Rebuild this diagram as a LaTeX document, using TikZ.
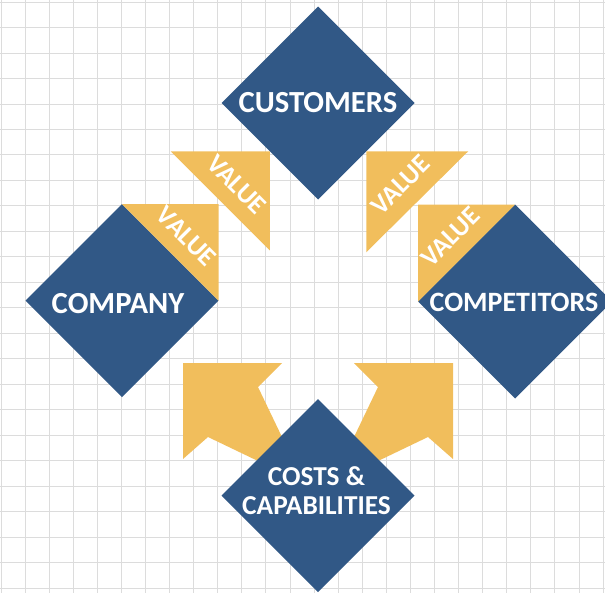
\documentclass[tikz,border=0pt]{standalone}
\usepackage{fontspec}
\setmainfont{Carlito}
\usetikzlibrary{shapes.geometric,calc}
\definecolor{navy}{HTML}{315886}
\definecolor{gold}{HTML}{F1BE5C}
\definecolor{gridgray}{HTML}{DCDCDC}
\begin{document}
\begin{tikzpicture}[x=0.75pt,y=-0.75pt,
  box/.style={diamond,aspect=1,fill=navy,draw=none,inner sep=0pt,outer sep=0pt,
    minimum width=144.75pt,minimum height=144.75pt},
  boxtext/.style={text=white,font=\bfseries\fontsize{23}{27}\selectfont,inner sep=0pt},
  valtext/.style={text=white,font=\bfseries\fontsize{20}{24}\selectfont,inner sep=0pt},
  wedge/.style={fill=gold,draw=none},
  gridline/.style={draw=gridgray,line width=0.6pt}]
\useasboundingbox (0,0) rectangle (605,593);

% background grid
\foreach \k in {0,...,25} \draw[gridline] ({1+24.08*\k},0) -- ({1+24.08*\k},593);
\foreach \k in {0,...,23} \draw[gridline] (0,{2+25.48*\k}) -- (605,{2+25.48*\k});

% two broad arrows rising from the bottom block
\fill[wedge] (183,363) -- (282,363) -- (258,387) -- (294,462) -- (283,473)
  -- (208,437) -- (183,459) -- cycle;
\fill[wedge] (453,363) -- (354,363) -- (378,387) -- (342,462) -- (353,473)
  -- (428,437) -- (453,459) -- cycle;

% the four blocks
\node[box] (cust) at (318,103) {};
\node[box] (comp) at (122,300.5) {};
\node[box,minimum width=145.5pt,minimum height=145.5pt] (rival) at (515,301.5) {};
\node[box] (cost) at (318,495.5) {};

% value triangles
\coordinate (ul) at ($(cust.west)!0.5!(cust.south)$);
\coordinate (ul1) at ($(ul)+(-99,0)$);
\coordinate (ul2) at ($(ul)+(0,99)$);
\fill[wedge] (ul) -- (ul1) -- (ul2) -- cycle;

\coordinate (ur) at ($(cust.east)!0.5!(cust.south)$);
\coordinate (ur1) at ($(ur)+(102,0)$);
\coordinate (ur2) at ($(ur)+(0,101)$);
\fill[wedge] (ur) -- (ur1) -- (ur2) -- cycle;

\coordinate (ll) at (comp.north -| comp.east);
\fill[wedge] (ll) -- (comp.north) -- (comp.east) -- cycle;

\coordinate (lr) at (rival.north -| rival.west);
\fill[wedge] (lr) -- (rival.north) -- (rival.west) -- cycle;

\node[valtext,rotate=-45] (vul) at ($1/3*(ul)+1/3*(ul1)+1/3*(ul2)$) {VALUE};
\node[valtext,rotate=45] (vur) at ($1/3*(ur)+1/3*(ur1)+1/3*(ur2)$) {VALUE};
\node[valtext,rotate=-45] (vll) at ($1/3*(ll)+1/3*(comp.north)+1/3*(comp.east)$) {VALUE};
\node[valtext,rotate=45] (vlr) at ($1/3*(lr)+1/3*(rival.north)+1/3*(rival.west)$) {VALUE};

% block labels
\node[boxtext] (custlbl) at (cust) {CUSTOMERS};
\node[boxtext] (complbl) at ($(comp)+(-4,3)$) {COMPANY};
\node[boxtext,font=\bfseries\fontsize{21}{25}\selectfont] (rivallbl) at ($(rival)+(-1,1)$) {COMPETITORS};
\node[boxtext,align=center,font=\bfseries\fontsize{20.5}{21.75}\selectfont] (costlbl)
  at ($(cost)+(-1.5,-5)$) {COSTS \&\\CAPABILITIES};
\end{tikzpicture}
\end{document}
